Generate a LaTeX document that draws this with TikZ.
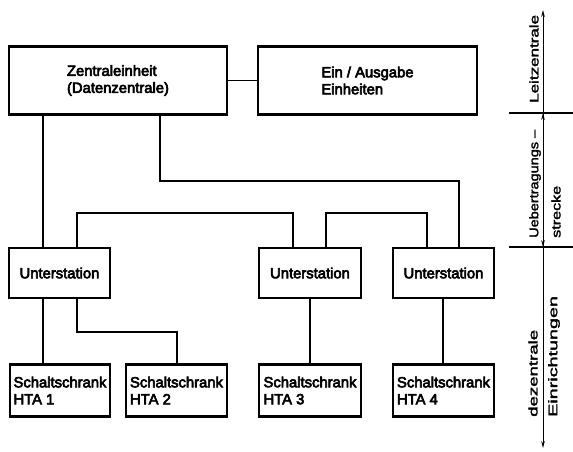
\documentclass[tikz,border=0pt]{standalone}
\usepackage{fontspec}
\setmainfont{Liberation Sans}
\newfontfamily\dfont[FakeBold=4]{Liberation Sans}
\newfontfamily\sfontb[FakeBold=2]{Liberation Sans}
\usetikzlibrary{arrows.meta}
\begin{document}
\begin{tikzpicture}[x=1pt,y=-1pt,
  box/.style={draw, line width=2.6pt, inner sep=0pt, font=\dfont\fontsize{14.8}{17}\selectfont},
  conn/.style={line width=1.2pt},
  sep/.style={line width=1.3pt},
  scl/.style={line width=1pt},
  tip/.style={-{Stealth[length=7pt,width=3.6pt]}},
  side/.style={rotate=90, anchor=west, inner sep=0pt, font=\sfontb\fontsize{12.5}{14}\selectfont}]
\useasboundingbox (0,0) rectangle (573,452);
% boxes
\node[box, minimum width=218pt, minimum height=68pt, align=left] (ze) at (118,80.5) {Zentraleinheit\\(Datenzentrale)};
\node[box, minimum width=219pt, minimum height=68pt, align=left] (io) at (367.5,80.5) {Ein / Ausgabe\\Einheiten};
\node[box, minimum width=101pt, minimum height=50pt, align=center] (u1) at (59.5,273) {Unterstation};
\node[box, minimum width=102pt, minimum height=50pt, align=center] (u2) at (310,273) {Unterstation};
\node[box, minimum width=101pt, minimum height=50pt, align=center] (u3) at (443.5,273) {Unterstation};
\node[box, minimum width=100pt, minimum height=52pt, align=left] (h1) at (60,390.5) {Schaltschrank\\HTA 1};
\node[box, minimum width=101pt, minimum height=52pt, align=left] (h2) at (176.5,390.5) {Schaltschrank\\HTA 2};
\node[box, minimum width=102pt, minimum height=52pt, align=left] (h3) at (310,390.5) {Schaltschrank\\HTA 3};
\node[box, minimum width=101pt, minimum height=52pt, align=left] (h4) at (443.5,390.5) {Schaltschrank\\HTA 4};
% connectors
\draw[conn] (ze) -- (io);
\draw[conn] (ze.south -| 43,0) -- (u1.north -| 43,0);
\draw[conn] (ze.south -| 160,0) |- (459,181) -- (u3.north -| 459,0);
\draw[conn] (u1.north -| 77,0) |- (293,213) -- (u2.north -| 293,0);
\draw[conn] (u2.north -| 326,0) |- (427,213) -- (u3.north -| 427,0);
\draw[conn] (u1.south -| 43,0) -- (h1.north -| 43,0);
\draw[conn] (u1.south -| 77,0) |- (177,332) -- (h2.north -| 177,0);
\draw[conn] (u2.south -| 310,0) -- (h3.north -| 310,0);
\draw[conn] (u3.south -| 443,0) -- (h4.north -| 443,0);
% side scale
\coordinate (st) at (543,10);
\coordinate (s1) at (543,113);
\coordinate (s2) at (543,247);
\coordinate (sb) at (543,448);
\draw[sep] (509,113) -- (573,113);
\draw[sep] (509,247) -- (573,247);
\draw[scl,tip] (s1) -- (st);
\draw[scl,tip] (s1) -- (s2);
\draw[scl,tip] (s2) -- (s1);
\draw[scl,tip] (s2) -- (sb);
\node[side] (l1) at (534,103) {\scalebox{1.36}[1]{Leitzentrale}};
\node[side] (l2) at (535,238) {\scalebox{1.16}[1]{Uebertragungs –}};
\node[side] (l3) at (556,238) {\scalebox{1.29}[1]{strecke}};
\node[side] (l4) at (533,417) {\scalebox{1.49}[1]{dezentrale}};
\node[side] (l5) at (554,417) {\scalebox{1.58}[1]{Einrichtungen}};
\end{tikzpicture}
\end{document}
